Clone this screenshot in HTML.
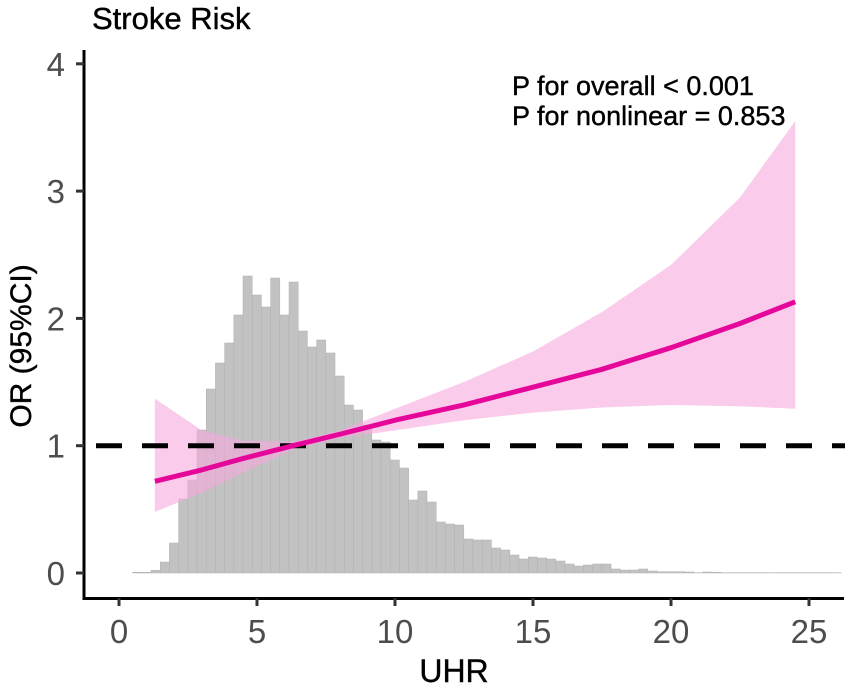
<!DOCTYPE html>
<html><head><meta charset="utf-8"><style>
body{margin:0;background:#fff;}
svg text{font-family:"Liberation Sans",Arial,sans-serif;}
</style></head><body>
<svg id="chart" width="851" height="689" viewBox="0 0 851 689" xmlns="http://www.w3.org/2000/svg">
<text x="92" y="29" font-size="31" fill="#000" stroke="#000" stroke-width="0.4">Stroke Risk</text>
<g id="hist"></g>
<g id="band"></g>
<g id="ref"></g>
<g id="curve"></g>
<g id="axes"></g>
<text x="512" y="95" font-size="27" stroke="#000" stroke-width="0.4">P for overall &lt; 0.001</text>
<text x="512" y="125" font-size="27" stroke="#000" stroke-width="0.4">P for nonlinear = 0.853</text>
<text x="454" y="682" font-size="32" text-anchor="middle" stroke="#000" stroke-width="0.4">UHR</text>
<text transform="translate(31,346) rotate(-90)" font-size="30" text-anchor="middle" stroke="#000" stroke-width="0.4">OR (95%CI)</text>
</svg>
<script>
const binStart = 0.16;
const binWidth = 1/3;
const histFreq = [0,0.7,0.7,2.7,11,30,74,93,143,184,210,230,258,297,278,266,295,258,291,242,226,233,220,197,168,163,148,133,131,113,
105,73,82,71,51,49,48,34,33,33,25,23,18,14,16,15,14,12,9,7,8,9,9,4,3,3,4,2,1.3,1.3,1.3,1,0.3,1,0.7,
0.3,0.3,0.3,0.3,0.3,0.3,0.3,0.3,0.3,0.3,0.3,0.3,0.3];
const curveX = [1.3,3,4.5,6.3,8,10,12.5,15,17.5,20,22.5,24.5];
const curveOR = [0.72,0.81,0.9,1.0,1.09,1.2,1.32,1.46,1.6,1.77,1.96,2.13];
const curveLo = [0.48,0.63,0.79,0.97,1.06,1.12,1.2,1.26,1.3,1.32,1.31,1.29];
const curveHi = [1.37,1.12,1.04,1.03,1.12,1.29,1.5,1.74,2.05,2.42,2.95,3.55];
const xTicks = [0,5,10,15,20,25];
const yTicks = [0,1,2,3,4];
const refOR = 1;

const NS='http://www.w3.org/2000/svg';
const xS = v => 119 + v*27.6;
const yS = v => 573 - v*127.3;
const freqToOR = 1/127.3;
function mk(tag, attrs, parent){const e=document.createElementNS(NS,tag);for(const k in attrs)e.setAttribute(k,attrs[k]);parent.appendChild(e);return e;}

const hist=document.getElementById('hist');
histFreq.forEach((f,i)=>{
  const x0=xS(binStart+i*binWidth), x1=xS(binStart+(i+1)*binWidth);
  const y=yS(f*freqToOR);
  const r=mk('rect',{x:x0,y:y,width:x1-x0,height:yS(0)-y,fill:'#c2c2c2',stroke:'#b0b0b0','stroke-width':0.5},hist);
  
  
});

const band=document.getElementById('band');
let d='M'+curveX.map((x,i)=>xS(x)+','+yS(curveHi[i])).join(' L');
for(let i=curveX.length-1;i>=0;i--) d+=' L'+xS(curveX[i])+','+yS(curveLo[i]);
const bp=mk('path',{d:d+'Z',fill:'#f7a8dc','fill-opacity':0.6},band);



const ref=document.getElementById('ref');
const rl=mk('line',{x1:84,x2:845,y1:yS(refOR),y2:yS(refOR),stroke:'#000','stroke-width':5,'stroke-dasharray':'26 20','stroke-dashoffset':'-12'},ref);



const curve=document.getElementById('curve');
const cp=mk('path',{d:'M'+curveX.map((x,i)=>xS(x)+','+yS(curveOR[i])).join(' L'),fill:'none',stroke:'#e5079a','stroke-width':5,'stroke-linejoin':'round'},curve);



const axes=document.getElementById('axes');
const ya=mk('line',{x1:84,x2:84,y1:50,y2:600,stroke:'#000','stroke-width':3},axes);


const xa=mk('line',{x1:82.5,x2:844,y1:598.5,y2:598.5,stroke:'#000','stroke-width':3},axes);


xTicks.forEach(t=>{
  const tk=mk('line',{x1:xS(t),x2:xS(t),y1:598,y2:606,stroke:'#333','stroke-width':3},axes);
  
  
  const tl=mk('text',{x:xS(t),y:643,'font-size':33,'text-anchor':'middle',fill:'#4d4d4d'},axes);
  tl.textContent=t;
  
  
});
yTicks.forEach(t=>{
  const tk=mk('line',{x1:76,x2:84,y1:yS(t),y2:yS(t),stroke:'#333','stroke-width':3},axes);
  
  
  const tl=mk('text',{x:65,y:yS(t)+12,'font-size':33,'text-anchor':'end',fill:'#4d4d4d'},axes);
  tl.textContent=t;
  
  
});
</script>
</body></html>
